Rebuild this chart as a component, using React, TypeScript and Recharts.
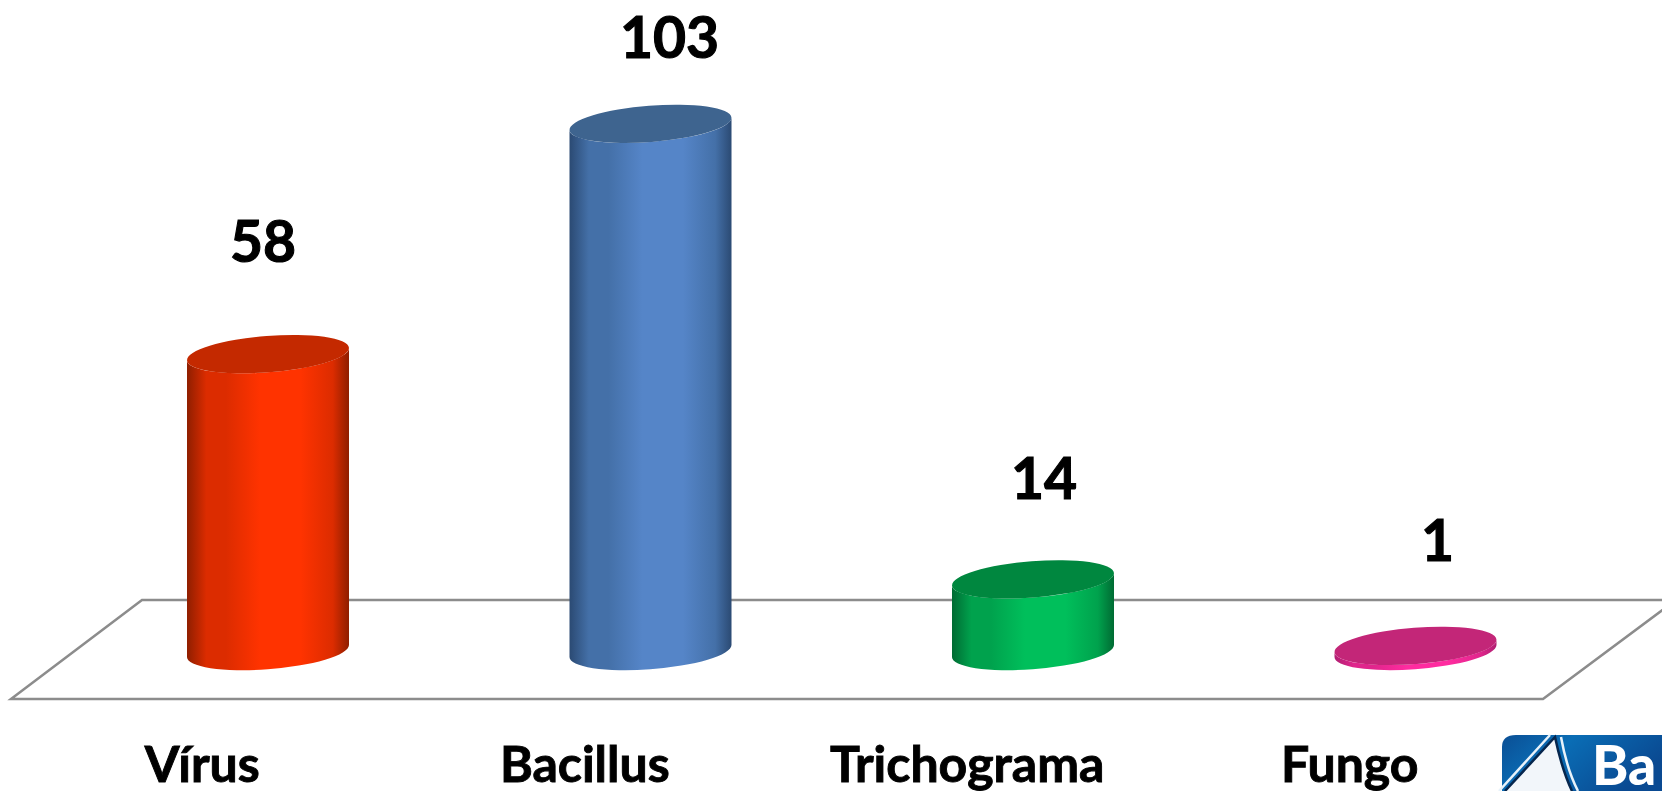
import React from "react";
import { BarChart, Bar, XAxis, YAxis, LabelList, Cell } from "recharts";

const categories = ["Vírus", "Bacillus", "Trichograma", "Fungo"];
const values = [58, 103, 14, 1];
const labelShiftX = [-5, 19, 11, 22];
const labelShiftY = [-92, -66, -80, -85];
const edgeColors = ["#8f1e00", "#2b4a73", "#006b33", "#b01f72"];
const shoulderColors = ["#dc2c00", "#4470a8", "#00a24d", "#e0268c"];
const midColors = ["#ff3300", "#5585c8", "#00bf5b", "#ff2ca0"];
const topColors = ["#c42900", "#3e648f", "#00873f", "#c32678"];

const data = categories.map((name, i) => ({ name, value: values[i], i }));
const FONT = "Lato, 'Open Sans', sans-serif";

function Cylinder(props: any) {
  const { x, y, width, height, index } = props;
  const rx = width * 0.5012;
  const ry = width * 0.112;
  const dy = width * 0.037;
  const cx = x + width / 2;
  const rot = -4.5;
  const bottom = y + height;
  const side = `M${x},${y + dy} L${x},${bottom + dy} A${rx},${ry} ${rot} 0 0 ${x + width},${bottom - dy} L${x + width},${y - dy} A${rx},${ry} ${rot} 0 1 ${x},${y + dy} Z`;
  return (
    <g>
      <path d={side} fill={`url(#cyl${index})`} />
      <ellipse cx={cx} cy={y} rx={rx} ry={ry} transform={`rotate(${rot} ${cx} ${y})`} fill={topColors[index]} />
    </g>
  );
}

function CategoryTick(props: any) {
  const { x, payload } = props;
  return (
    <text x={x - 66} y={782} textAnchor="middle" fontFamily={FONT} fontWeight={700} fontSize={50} fill="#000" stroke="#000" strokeWidth={0.9}>
      {payload.value}
    </text>
  );
}

function ValueLabel(props: any) {
  const { x, y, width, value, index } = props;
  return (
    <text
      x={x + width / 2 + labelShiftX[index]}
      y={y + labelShiftY[index]}
      textAnchor="middle"
      fontFamily={FONT}
      fontWeight={700}
      fontSize={57}
      fill="#000"
      stroke="#000"
      strokeWidth={1.1}
    >
      {value}
    </text>
  );
}

function Backdrop() {
  return (
    <svg width={1662} height={791} style={{ position: "absolute", left: 0, top: 0 }}>
      <path d="M1662,600 L142,600 L11,699 L1543,699 L1676,600" fill="none" stroke="#8c8c8c" strokeWidth={2.5} />
      <defs>
        <linearGradient id="logoBlue" x1="0" y1="0" x2="1" y2="0.4">
          <stop offset="0" stopColor="#0b4f95" />
          <stop offset="0.4" stopColor="#0a6db5" />
          <stop offset="1" stopColor="#0a4a92" />
        </linearGradient>
      </defs>
      <path d="M1502,791 L1502,747 Q1502,735 1516,735 L1662,735 L1662,791 Z" fill="url(#logoBlue)" />
      <path d="M1505,791 L1555,737 Q1562,770 1572,791 Z" fill="#f2f6fa" />
      <path d="M1505,791 L1555,737 Q1562,770 1572,791" fill="none" stroke="#06264d" strokeWidth={2.5} />
      <path d="M1499,791 L1550,735 M1561,737 Q1567,770 1578,791" fill="none" stroke="#e8f2fa" strokeWidth={2.5} />
      <text x={1592} y={785} fontFamily={FONT} fontWeight={900} fontSize={55} fill="#fff">Ba</text>
    </svg>
  );
}

export default function App() {
  return (
    <div style={{ position: "absolute", left: 0, top: 0, width: 1662, height: 791, overflow: "hidden", background: "#fff" }}>
      <Backdrop />
      <div style={{ position: "absolute", left: 0, top: 0 }}>
        <BarChart width={1662} height={791} data={data} margin={{ top: 88, right: 55, bottom: 0, left: 77 }} barSize={162} style={{ overflow: "visible" }}>
          <defs>
            {edgeColors.map((c, i) => (
              <linearGradient key={i} id={`cyl${i}`} x1="0" y1="0" x2="1" y2="0">
                <stop offset="0" stopColor={c} />
                <stop offset="0.12" stopColor={shoulderColors[i]} />
                <stop offset="0.24" stopColor={shoulderColors[i]} />
                <stop offset="0.45" stopColor={midColors[i]} />
                <stop offset="0.7" stopColor={midColors[i]} />
                <stop offset="0.9" stopColor={shoulderColors[i]} />
                <stop offset="1" stopColor={c} />
              </linearGradient>
            ))}
          </defs>
          <XAxis dataKey="name" height={140} axisLine={false} tickLine={false} tick={<CategoryTick />} interval={0} />
          <YAxis hide width={0} domain={[0, 110]} />
          <Bar dataKey="value" isAnimationActive={false} shape={<Cylinder />}>
            {data.map((d) => (
              <Cell key={d.name} fill={midColors[d.i]} />
            ))}
            <LabelList dataKey="value" content={<ValueLabel />} />
          </Bar>
        </BarChart>
      </div>
    </div>
  );
}
